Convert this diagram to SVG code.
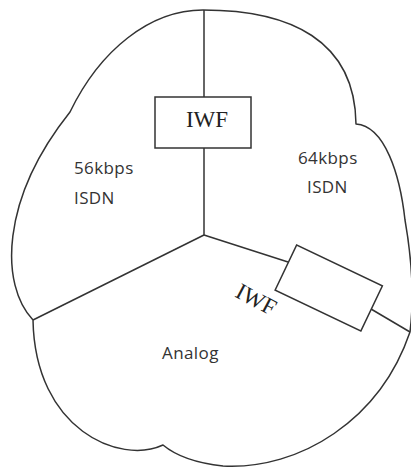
<svg xmlns="http://www.w3.org/2000/svg" width="411" height="467" viewBox="0 0 411 467">
<style>
.ln{fill:none;stroke:#333;stroke-width:1.5;stroke-linejoin:round}
.box{fill:#fff;stroke:#333;stroke-width:1.5}
.sans{font-family:"Open Sans","Liberation Sans",sans-serif;font-size:17px;fill:#333;letter-spacing:0.4px}
.serif{font-family:"Liberation Serif","Times New Roman",serif;font-size:23px;fill:#222}
</style>
<rect width="411" height="467" fill="#fff"/>
<g id="outline">
<path class="ln" d="M33,320 C0,285 0,200 70,112 C100,50 150,10 203,10 C290,10 355,40 356,124 C385,126 400,175 405,220 C412,260 414,300 410,332 C380,420 300,470 223,466 C195,463 175,455 163,445 C120,465 35,430 33,320 Z"/>
</g>
<g id="connectors">
<line class="ln" x1="204" y1="10" x2="204" y2="97"/>
<line class="ln" x1="204" y1="148" x2="204" y2="235"/>
<line class="ln" x1="204" y1="235" x2="33" y2="320"/>
<line class="ln" x1="204" y1="235" x2="288" y2="262"/>
<line class="ln" x1="371" y1="309" x2="410" y2="332"/>
</g>
<g id="iwf-top">
<rect class="box" x="155" y="97" width="96" height="51"/>
<text class="serif" x="207" y="127" text-anchor="middle">IWF</text>
</g>
<g id="iwf-right">
<rect class="box" x="-47.5" y="-25" width="95" height="50" transform="translate(328.75,288) rotate(25.5)"/>
</g>
<g id="iwf-right-label">
<text class="serif" x="0" y="7" text-anchor="middle" font-size="21" transform="translate(256,300) rotate(28)">IWF</text>
</g>
<g id="isdn56">
<text class="sans" x="74" y="174">56kbps</text>
<text class="sans" x="74" y="204">ISDN</text>
</g>
<g id="isdn64">
<text class="sans" x="298" y="164">64kbps</text>
<text class="sans" x="307" y="193">ISDN</text>
</g>
<g id="analog">
<text class="sans" x="162" y="359">Analog</text>
</g>
</svg>
